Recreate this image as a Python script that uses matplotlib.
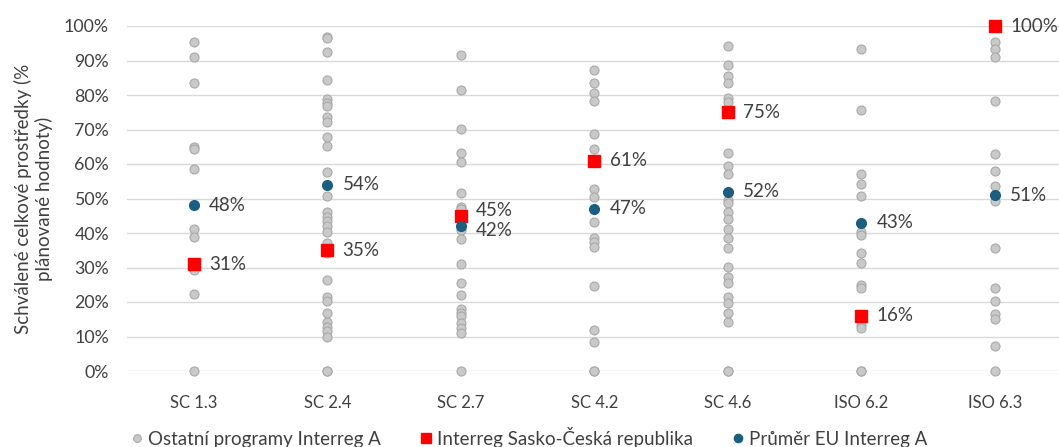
import matplotlib.pyplot as plt
from matplotlib.ticker import PercentFormatter

plt.rcParams['font.family'] = ['Lato', 'DejaVu Sans']

categories = ["SC 1.3", "SC 2.4", "SC 2.7", "SC 4.2", "SC 4.6", "ISO 6.2", "ISO 6.3"]

# other Interreg A programmes, % of planned value
others = [
    [95.4, 90.9, 83.4, 64.8, 64.3, 58.6, 41.2, 38.9, 29.3, 22.3, 0],
    [96.9, 96.5, 92.4, 84.3, 78.8, 77.8, 76.8, 73.5, 72.3, 67.9, 65.3, 57.8, 50.8,
     46.0, 44.7, 43.6, 42.1, 40.2, 37.0, 34.1, 26.5, 21.5, 20.3, 16.7, 14.1, 12.8,
     11.7, 9.8, 0, 0],
    [91.6, 81.4, 70.1, 63.1, 60.7, 51.7, 47.6, 46.9, 44.0, 40.9, 38.2, 30.9, 25.4,
     21.9, 18.0, 16.7, 16.0, 13.8, 12.4, 10.9, 0],
    [87.2, 83.6, 80.7, 78.3, 68.6, 64.3, 52.7, 50.5, 43.3, 38.5, 37.5, 36.0, 24.7,
     11.9, 8.5, 0, 0],
    [94.3, 88.7, 85.5, 83.6, 79.0, 78.1, 63.3, 59.5, 57.1, 49.6, 48.6, 46.2, 44.0,
     41.1, 38.5, 35.6, 30.2, 27.2, 25.4, 21.5, 19.8, 16.7, 14.3, 0, 0],
    [93.2, 75.7, 57.0, 54.1, 50.8, 40.4, 39.4, 34.1, 31.4, 24.9, 24.0, 13.3, 12.4, 0, 0],
    [95.3, 93.2, 91.1, 78.3, 62.9, 58.1, 53.6, 49.4, 35.7, 24.2, 20.4, 16.5, 15.1, 7.3, 0],
]
sasko = [31, 35, 45, 61, 75, 16, 100]
eu_avg = [48, 54, 42, 47, 52, 43, 51]

grey_fill = "#c9c9c9"
grey_edge = "#a9a9a9"
red = "#ff0000"
blue = "#1b5e80"
text_col = "#404040"

fig = plt.figure(figsize=(10.59, 4.47), dpi=100)
ax = fig.add_axes([127 / 1059, 1 - 371 / 447, 932 / 1059, 345 / 447])

for i, vals in enumerate(others):
    ax.plot([i] * len(vals), [v / 100 for v in vals], 'o', ms=6.5, mfc=grey_fill,
            mec=grey_edge, mew=0.8, clip_on=False, zorder=3,
            label="Ostatní programy Interreg A" if i == 0 else None)

x = list(range(len(categories)))
ax.plot(x, [v / 100 for v in sasko], 's', ms=8.3, color=red, linestyle='none',
        clip_on=False, zorder=4, label="Interreg Sasko-Česká republika")
ax.plot(x, [v / 100 for v in eu_avg], 'o', ms=7, color=blue, linestyle='none',
        clip_on=False, zorder=5, label="Průměr EU Interreg A")

for i in x:
    # SC 2.7 labels sit almost on top of each other, nudge them apart a bit
    dy = 3.5 if (i == 2) else 0
    ax.annotate(f"{sasko[i]}%", (i, sasko[i] / 100), xytext=(11, dy),
                textcoords='offset points', va='center', ha='left',
                fontsize=13.5, color=text_col, zorder=6)
    ax.annotate(f"{eu_avg[i]}%", (i, eu_avg[i] / 100), xytext=(11, -dy),
                textcoords='offset points', va='center', ha='left',
                fontsize=13.5, color=text_col, zorder=6)

ax.set_xlim(-0.5, 6.48)
ax.set_ylim(0, 1)
ax.set_yticks([i / 10 for i in range(11)])
ax.yaxis.set_major_formatter(PercentFormatter(1.0, decimals=0))
ax.set_xticks(x)
ax.set_xticklabels(categories)
ax.tick_params(axis='both', length=0, colors=text_col)
ax.tick_params(axis='x', pad=17, labelsize=12)
ax.tick_params(axis='y', pad=13, labelsize=12.8)
ax.grid(axis='y', color='#d9d9d9', linewidth=1)
ax.set_axisbelow(True)
for s in ax.spines.values():
    s.set_visible(False)

ax.set_ylabel("Schválené celkové prostředky (%\nplánované hodnoty)", fontsize=13.5,
              color=text_col, labelpad=8)

fig.legend(loc='center', bbox_to_anchor=(0.5, 1 - 437 / 447), ncol=3, frameon=False,
           fontsize=13.5, handlelength=0.6, handletextpad=0.3, columnspacing=2.1,
           labelcolor=text_col, markerscale=0.85)

fig.savefig("out.png", dpi=100)
